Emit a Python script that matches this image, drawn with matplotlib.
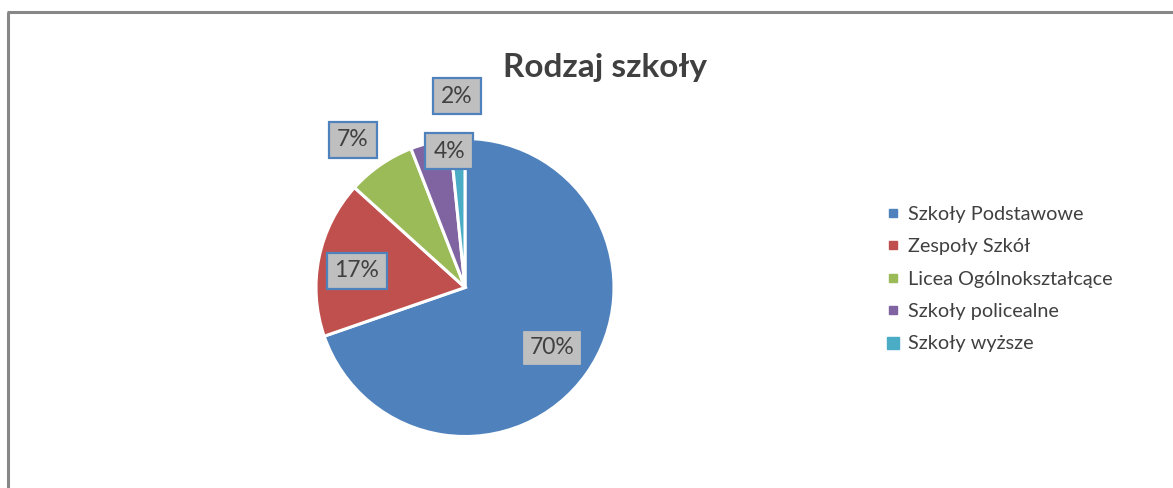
import matplotlib
matplotlib.use("Agg")
import matplotlib.pyplot as plt
from matplotlib.lines import Line2D

categories = ["Szkoły Podstawowe", "Zespoły Szkół", "Licea Ogólnokształcące",
              "Szkoły policealne", "Szkoły wyższe"]
values = [69.7, 17.0, 7.4, 4.3, 1.6]
pct_labels = ["70%", "17%", "7%", "4%", "2%"]
title = "Rodzaj szkoły"

colors = ["#4F81BD", "#C0504D", "#9BBB59", "#8064A2", "#4BACC6"]
label_pos = [(0.584, -0.406), (-0.725, 0.111), (-0.752, 0.990),
             (-0.107, 0.916), (-0.054, 1.285)]
legend_msize = [5.5, 5.5, 5.5, 5.5, 8]
TXT = "#404040"
FONT = "Lato"

W, H = 1173, 488
fig = plt.figure(figsize=(W / 100, H / 100), dpi=100)

# frame (only left and top visible)
fig.add_artist(Line2D([8 / W, 8 / W], [0, 1 - 12 / H], transform=fig.transFigure,
                      color="#878787", lw=2.2, solid_capstyle="butt"))
fig.add_artist(Line2D([7 / W, 1], [1 - 12 / H, 1 - 12 / H], transform=fig.transFigure,
                      color="#878787", lw=2.2, solid_capstyle="butt"))

cx, cy, r = 465, 287.5, 149
ax = fig.add_axes([(cx - r) / W, (H - cy - r) / H, 2 * r / W, 2 * r / H])
wedges, _ = ax.pie(values, colors=colors, startangle=90, counterclock=False,
                   radius=1, wedgeprops=dict(edgecolor="white", linewidth=2.2))
ax.set_xlim(-1, 1)
ax.set_ylim(-1, 1)
ax.set_aspect("equal")
ax.axis("off")

for lab, (x, y) in zip(pct_labels, label_pos):
    ax.text(x, y, lab, ha="center", va="center", fontsize=16.5, color=TXT,
            family=FONT, clip_on=False,
            bbox=dict(boxstyle="square,pad=0.34", fc="#BFBFBF", ec="#4F81BD", lw=1.6))

fig.text(605 / W, 1 - 68 / H, title, ha="center", va="center", fontsize=24,
         fontweight="bold", color=TXT, family=FONT)

handles = [Line2D([], [], ls="none", marker="s", markersize=ms, color=c)
           for c, ms in zip(colors, legend_msize)]
fig.legend(handles, categories, loc="center left", bbox_to_anchor=(888 / W, 1 - 279 / H),
           frameon=False, prop=dict(family=FONT, size=14.3), labelcolor=TXT,
           handlelength=0.55, handletextpad=0.45, labelspacing=0.78, borderpad=0,
           borderaxespad=0)

fig.savefig("out.png", dpi=100)
